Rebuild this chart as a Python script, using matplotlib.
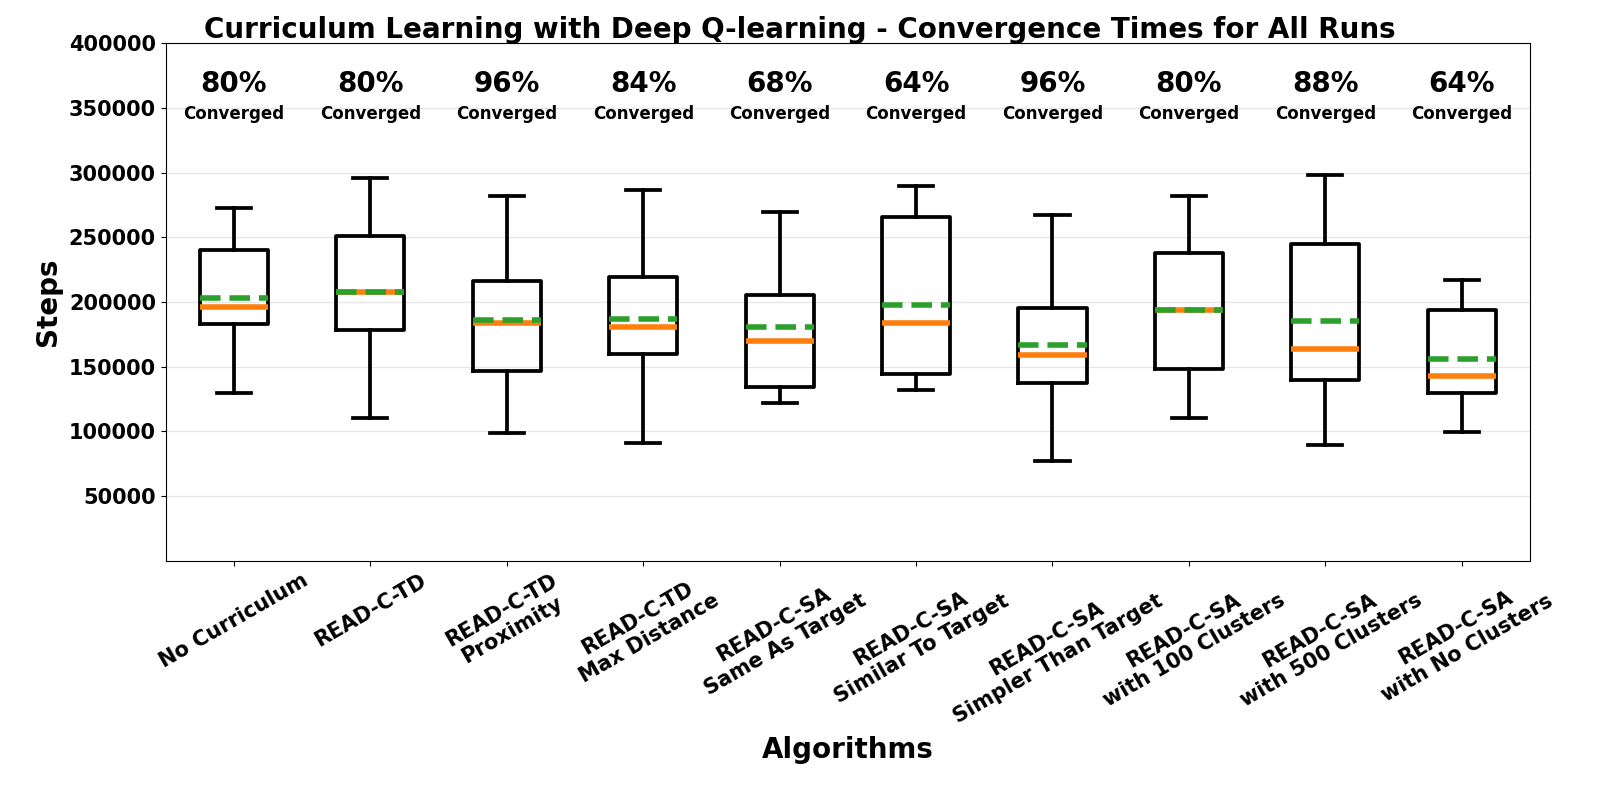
import matplotlib
matplotlib.use("Agg")
import matplotlib.pyplot as plt

plt.rcParams['font.family'] = ['DejaVu Sans']
plt.rcParams['font.weight'] = 'bold'

labels = ["No Curriculum", "READ-C-TD", "READ-C-TD\nProximity", "READ-C-TD\nMax Distance",
          "READ-C-SA\nSame As Target", "READ-C-SA\nSimilar To Target",
          "READ-C-SA\nSimpler Than Target", "READ-C-SA\nwith 100 Clusters",
          "READ-C-SA\nwith 500 Clusters", "READ-C-SA\nwith No Clusters"]
whishi = [272500, 296000, 282000, 286500, 269500, 290000, 267500, 282000, 298500, 217000]
q3 = [240000, 251000, 216500, 219000, 205500, 265500, 195500, 238000, 245000, 194000]
means = [203000, 208000, 186000, 187000, 181000, 198000, 167000, 193500, 185500, 156000]
medians = [196500, 208000, 184000, 181000, 169500, 184000, 159000, 194000, 164000, 143000]
q1 = [183000, 178500, 147000, 159500, 134500, 144000, 137500, 148000, 140000, 129500]
whislo = [130000, 110500, 99000, 91000, 122000, 132000, 77000, 110500, 89500, 99500]
converged_pct = [80, 80, 96, 84, 68, 64, 96, 80, 88, 64]
yticks = [50000, 100000, 150000, 200000, 250000, 300000, 350000, 400000]

stats = []
for i in range(len(labels)):
    stats.append(dict(label=labels[i], whislo=whislo[i], q1=q1[i], med=medians[i],
                      q3=q3[i], whishi=whishi[i], mean=means[i], fliers=[]))

fig = plt.figure(figsize=(16, 8), dpi=100)
ax = fig.add_axes([165.7/1600, 1-560.7/800, (1530-165.7)/1600, (560.7-43.3)/800])

ax.yaxis.grid(True, color='#e6e6e6', linewidth=0.9)
ax.set_axisbelow(True)

positions = list(range(1, len(labels)+1))
ax.bxp(stats, positions=positions, widths=0.5, showmeans=True, meanline=True,
       showfliers=False,
       boxprops=dict(color='black', linewidth=2.7),
       whiskerprops=dict(color='black', linewidth=2.7),
       capprops=dict(color='black', linewidth=2.7),
       medianprops=dict(color='#ff7f0e', linewidth=4),
       meanprops=dict(color='#2ca02c', linewidth=4, linestyle='--'))

for p, pct in zip(positions, converged_pct):
    ax.text(p, 368500, f"{pct}%", ha='center', va='center', fontsize=20, fontweight='bold')
    ax.text(p, 345500, "Converged", ha='center', va='center', fontsize=12, fontweight='bold')

ax.set_xlim(0.5, len(labels)+0.5)
ax.set_ylim(0, 400000)
ax.set_yticks(yticks)
ax.set_yticklabels([str(v) for v in yticks], fontsize=15, fontweight='bold')
ax.set_xticks(positions)
ax.set_xticklabels(labels, rotation=30, ha='center', fontsize=15, fontweight='bold',
                   multialignment='center')

ax.set_xlabel("Algorithms", fontsize=20, fontweight='bold', va='baseline')
ax.xaxis.set_label_coords(0.5, (560.7-758)/517.4)
ax.set_ylabel("Steps", fontsize=20, fontweight='bold', va='center')
ax.yaxis.set_label_coords((48-165.7)/(1530-165.7), 0.5)

fig.text(0.5, 1-37.5/800, "Curriculum Learning with Deep Q-learning - Convergence Times for All Runs",
         ha='center', va='baseline', fontsize=20, fontweight='bold')

fig.savefig("out.png", dpi=100)
